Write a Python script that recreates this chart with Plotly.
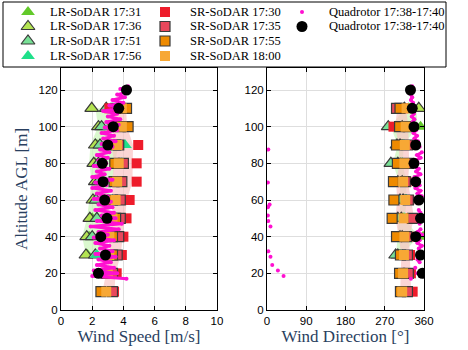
import plotly.graph_objects as go

W, H = 468, 350

# ---- SoDAR profiles ----
lr_alt = [30, 40, 50, 60, 70, 80, 90, 100, 110]
lr_names = ["LR-SoDAR 17:31", "LR-SoDAR 17:36", "LR-SoDAR 17:51", "LR-SoDAR 17:56"]
lr_spd = [
    [1.7, 1.8, 2.0, 2.1, 2.3, 2.2, 2.3, 2.6, 2.9],
    [1.6, 1.65, 1.85, 2.05, 2.2, 2.1, 2.2, 2.4, 1.97],
    [2.2, 2.0, 2.3, 2.25, 2.4, 2.4, 2.5, 2.6, 2.9],
    [2.3, 3.6, 3.5, 3.3, 3.6, 3.9, 4.1, 3.1, 3.2],
]
lr_dir = [
    [305, 358, 312, 318, 315, 306, 310, 352, 330],
    [300, 310, 308, 312, 310, 300, 305, 310, 348],
    [295, 305, 300, 305, 300, 284, 298, 278, 315],
    [310, 318, 316, 320, 318, 310, 314, 316, 325],
]

sr_alt = [10, 20, 30, 40, 50, 60, 70, 80, 90, 100, 110]
sr_names = ["SR-SoDAR 17:30", "SR-SoDAR 17:35", "SR-SoDAR 17:55", "SR-SoDAR 18:00"]
sr_spd = [
    [3.4, 3.57, 3.9, 4.0, 4.2, 4.4, 4.85, 4.85, 4.95, 3.3, 3.1],
    [3.3, 3.3, 3.6, 3.7, 3.8, 3.8, 3.9, 4.0, 3.7, 3.8, 3.6],
    [2.56, 2.9, 3.3, 3.3, 3.5, 3.3, 3.4, 3.45, 3.5, 4.3, 4.2],
    [2.9, 3.0, 3.1, 3.1, 3.3, 3.5, 3.6, 3.7, 3.6, 3.9, 3.9],
]
sr_dir = [
    [334, 330, 328, 324, 330, 326, 320, 322, 319, 290, 313],
    [322, 324, 322, 320, 334, 324, 317, 324, 322, 324, 297],
    [306, 304, 306, 297, 287, 291, 290, 299, 297, 304, 305],
    [310, 312, 314, 315, 313, 317, 312, 315, 316, 318, 320],
]

# ---- quadrotor ----
q_alt = [17, 18.5, 20, 21.5, 23, 24.5, 26, 27.5, 29, 30.5, 32, 33.5, 35, 36.5, 38,
         39.5, 41, 42.5, 44, 45.5, 47, 48.5, 50, 51.5, 53, 54.5, 56, 57.5, 59, 60.5,
         62, 63.5, 65, 66.5, 68, 69.5, 71, 72.5, 74, 75.5, 77, 78.5, 80, 81.5, 83,
         84.5, 86, 87.5, 89, 90.5, 92, 93.5, 95, 96.5, 98, 99.5, 101, 102.5, 104,
         105.5, 107, 108.5, 110, 111.5, 113, 114.5, 116, 117.5, 119, 120.5, 122]
q_spd = [4.2, 2.0, 3.6, 2.1, 3.4, 2.3, 3.2, 2.4, 3.5, 2.2, 3.3, 2.5, 3.1, 2.2, 3.4,
         2.1, 3.0, 2.4, 3.7, 1.9, 3.9, 2.3, 3.5, 2.6, 3.4, 2.2, 3.3, 2.4, 3.2, 2.1,
         3.0, 2.3, 3.2, 2.0, 2.9, 2.2, 3.3, 2.0, 2.8, 2.3, 3.1, 2.1, 2.9, 2.4, 3.0,
         2.3, 3.1, 2.5, 3.3, 2.6, 3.5, 2.7, 3.4, 2.6, 3.6, 2.8, 3.7, 2.9, 3.8,
         3.0, 3.6, 2.7, 3.9, 3.1, 4.0, 3.3, 4.1, 3.6, 4.3, 3.8, 4.3]
q_dir = [330, 38, 345, 25, 340, 12, 350, 345, 8, 352, 3, 348, 355, 345, 350,
         342, 356, 345, 352, 8, 350, 3, 345, 2, 352, 348, 2, 6, 350, 342,
         355, 345, 352, 340, 350, 2, 348, 338, 352, 342, 348, 336, 345, 340, 352,
         344, 355, 3, 350, 340, 346, 338, 344, 336, 342, 335, 340, 334, 338,
         332, 337, 331, 336, 332, 335, 330, 333, 330, 332, 329, 333]
qb_alt = [20, 30, 40, 50, 60, 70, 80, 90, 100, 110, 120]
qb_spd = [2.4, 2.85, 2.55, 2.95, 2.8, 2.7, 2.65, 3.0, 3.35, 3.7, 4.2]
qb_dir = [356, 352, 341, 352, 348, 341, 337, 341, 337, 333, 329]

LR_STY = [dict(color="#62c92a", line=dict(width=0)),
          dict(color="#b4e452", line=dict(color="#3a3a3a", width=1.2)),
          dict(color="#78e096", line=dict(color="#3a3a3a", width=1.2)),
          dict(color="#1fe08a", line=dict(width=0))]
SR_STY = [dict(color="#ee1c2b", line=dict(width=0)),
          dict(color="#e8485c", line=dict(color="#3a3a3a", width=1.2)),
          dict(color="#ee8a00", line=dict(color="#3a3a3a", width=1.2)),
          dict(color="#f7a835", line=dict(width=0))]
MAG = "#ff10d0"
SERIF = "Liberation Serif"
SANS = "Liberation Sans"


def band(alts, series):
    lo, hi = [], []
    for i in range(len(alts)):
        v = [s[i] for s in series]
        m = sum(v) / len(v)
        sd = (sum((x - m) ** 2 for x in v) / (len(v) - 1)) ** 0.5
        lo.append(m - sd)
        hi.append(m + sd)
    return lo, hi


def unwrap_gaps(xs, ys):
    ox, oy = [xs[0]], [ys[0]]
    for i in range(1, len(xs)):
        if abs(xs[i] - xs[i - 1]) > 180:
            ox.append(None); oy.append(None)
        ox.append(xs[i]); oy.append(ys[i])
    return ox, oy


fig = go.Figure()
for k, (sx, sy) in enumerate([("x", "y"), ("x2", "y2")]):
    lr = lr_spd if k == 0 else lr_dir
    sr = sr_spd if k == 0 else sr_dir
    for alts, ser, col in [(lr_alt, lr, "rgba(205,245,190,0.75)"), (sr_alt, sr, "rgba(250,195,195,0.7)")]:
        lo, hi = band(alts, ser)
        fig.add_trace(go.Scatter(x=lo + hi[::-1], y=alts + alts[::-1], fill="toself", fillcolor=col,
                                 line=dict(width=0), mode="lines", hoverinfo="skip", showlegend=False,
                                 xaxis=sx, yaxis=sy))
    for i in range(4):
        fig.add_trace(go.Scatter(x=lr[i], y=lr_alt, mode="markers", showlegend=False, xaxis=sx, yaxis=sy,
                                 marker=dict(symbol="triangle-up", size=12, **LR_STY[i])))
    for i in range(4):
        fig.add_trace(go.Scatter(x=sr[i], y=sr_alt, mode="markers", showlegend=False, xaxis=sx, yaxis=sy,
                                 marker=dict(symbol="square", size=10, **SR_STY[i])))
    qx = q_spd if k == 0 else q_dir
    lx, ly = unwrap_gaps(qx, q_alt)
    fig.add_trace(go.Scatter(x=lx, y=ly, mode="lines+markers", showlegend=False, xaxis=sx, yaxis=sy,
                             line=dict(color=MAG, width=3), marker=dict(color=MAG, size=4)))
    fig.add_trace(go.Scatter(x=qb_spd if k == 0 else qb_dir, y=qb_alt, mode="markers", showlegend=False,
                             xaxis=sx, yaxis=sy, marker=dict(color="black", size=11)))

# ---- manual legend (pixel coordinates inside legend box) ----
leg_rows = [12, 26.5, 41, 56]
leg_items = []
for i in range(4):
    leg_items.append((28, leg_rows[i], "triangle-up", 12, LR_STY[i], lr_names[i], 48))
    leg_items.append((165, leg_rows[i], "square", 10, SR_STY[i], sr_names[i], 188))
leg_items.append((302, leg_rows[0], "circle", 4, dict(color=MAG), "Quadrotor 17:38-17:40", 327))
leg_items.append((302, leg_rows[1], "circle", 11, dict(color="black"), "Quadrotor 17:38-17:40", 327))
annots = []
for mx, my, sym, sz, sty, name, tx in leg_items:
    fig.add_trace(go.Scatter(x=[mx], y=[my], mode="markers", showlegend=False, xaxis="x3", yaxis="y3",
                             marker=dict(symbol=sym, size=sz, **sty)))
    annots.append(dict(x=tx, y=my, xref="x3", yref="y3", text=name, showarrow=False, xanchor="left",
                       font=dict(family=SERIF, size=12.5, color="black")))

y0 = 1 - 310 / H
y1 = 1 - 68 / H
ax_common = dict(showline=True, linecolor="black", linewidth=1, mirror="ticks", ticks="inside", ticklen=4,
                 tickcolor="black", showgrid=True, gridcolor="#dedede", gridwidth=1, zeroline=False,
                 automargin=False, tickfont=dict(family=SANS, size=11.5, color="black"))
fig.update_layout(
    width=W, height=H, margin=dict(l=0, r=0, t=0, b=0), plot_bgcolor="white", paper_bgcolor="white",
    showlegend=False,
    xaxis=dict(domain=[61 / W, 217 / W], range=[0, 10], dtick=2, anchor="y",
               title=dict(text="Wind Speed [m/s]", font=dict(family=SERIF, size=17), standoff=2), **ax_common),
    yaxis=dict(domain=[y0, y1], range=[0, 132], dtick=20, anchor="x",
               title=dict(text="Altitude AGL [m]", font=dict(family=SERIF, size=17), standoff=6), **ax_common),
    xaxis2=dict(domain=[267 / W, 424 / W], range=[0, 360], dtick=90, anchor="y2",
                title=dict(text="Wind Direction [°]", font=dict(family=SERIF, size=17), standoff=2), **ax_common),
    yaxis2=dict(domain=[y0, y1], range=[0, 132], dtick=20, anchor="x2", **ax_common),
    xaxis3=dict(domain=[3 / W, 446 / W], range=[3, 446], visible=False, anchor="y3", fixedrange=True),
    yaxis3=dict(domain=[1 - 67 / H, 1 - 2 / H], range=[67, 2], visible=False, anchor="x3", fixedrange=True),
    shapes=[dict(type="rect", xref="paper", yref="paper", x0=3 / W, x1=446 / W, y0=1 - 67 / H, y1=1 - 2 / H,
                 line=dict(color="black", width=1), fillcolor="white", layer="below")],
    annotations=annots,
)
# the page body has a default 8px margin; remove it so the figure sits at the window origin
fig.write_html("out.html", post_script="document.body.style.margin='0';",
               config={"displayModeBar": False})
